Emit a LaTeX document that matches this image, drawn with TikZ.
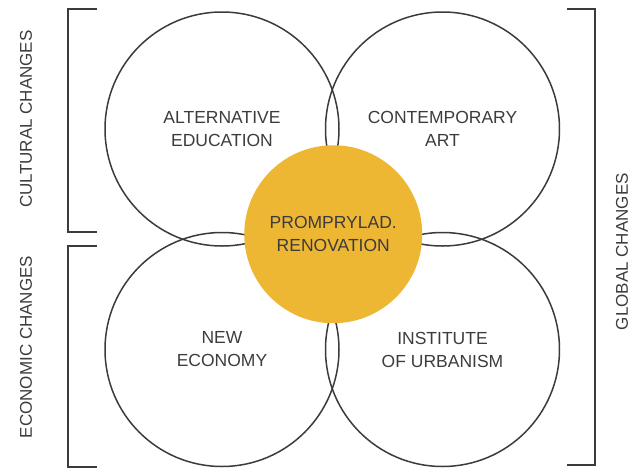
\documentclass[tikz,border=0pt]{standalone}
\usepackage{fontspec}
\setmainfont{Liberation Sans}
\usepackage{tikz}
\usetikzlibrary{positioning,calc}

\definecolor{linegray}{HTML}{3A3A40}
\definecolor{textgray}{HTML}{3C3C3C}
\definecolor{ochre}{HTML}{EDB734}

\begin{document}
\begin{tikzpicture}[x=1pt, y=-1pt,
                  every node/.style={align=center, text=textgray,
                    font=\fontsize{17.5}{23}\selectfont},
                  ring/.style={circle, draw=linegray, line width=1.5pt, minimum size=234pt},
                  hub/.style={circle, fill=ochre, minimum size=178pt},
                  side/.style={rotate=90, inner sep=1pt, font=\fontsize{17}{20}\selectfont},
                  bracket/.style={draw=linegray, line width=2.2pt}]
    \useasboundingbox (0,0) rectangle (633,469);
    \node[ring] (edu) at (222,129) {ALTERNATIVE\\EDUCATION};
    \node[ring] (art)[right=-15pt of edu] {CONTEMPORARY\\ART};
    \node[ring] (eco)[below=-15pt of edu] {NEW\\ECONOMY};
    \node[ring] (urb)[right=-15pt of eco] {INSTITUTE\\OF URBANISM};
    \node[hub] (ren) at ($(edu)!0.5!(urb)+(1,-5)$) {PROMPRYLAD.\\RENOVATION};
    % brackets
    \draw[bracket] (97,9) -- (68,9) -- (68,232) -- (97,232);
    \draw[bracket] (97,246) -- (68,246) -- (68,467) -- (97,467);
    \draw[bracket] (567,9) -- (595,9) -- (595,465) -- (567,465);
    \node[side] (cult) at (26,119) {CULTURAL CHANGES};
    \node[side] (econ) at (26,347) {ECONOMIC CHANGES};
    \node[side, anchor=east] (glob) at (622,172) {GLOBAL CHANGES};
  \end{tikzpicture}
\end{document}
